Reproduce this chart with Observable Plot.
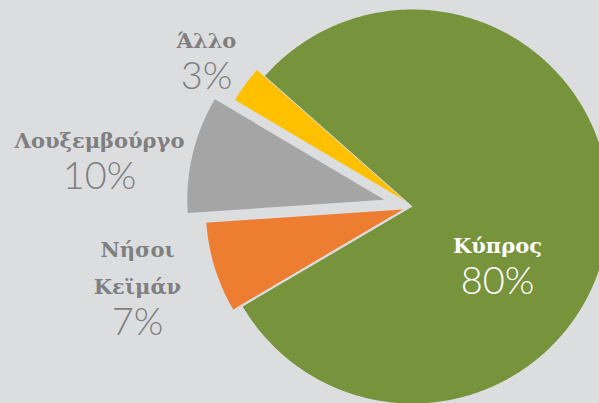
<!DOCTYPE html>
<html>
<head>
<meta charset="utf-8">
<script src="https://cdn.jsdelivr.net/npm/d3@7"></script>
<script src="https://cdn.jsdelivr.net/npm/@observablehq/plot@0.6"></script>
<style>
  html, body { margin: 0; padding: 0; background: #dcdddf; }
  #chart svg { display: block; background: #dcdddf; }
</style>
</head>
<body>
<div id="chart"></div>
<script>
// ---- data ----
const names = ["Κύπρος", "Νήσοι\nΚεϊμάν", "Λουξεμβούργο", "Άλλο"];
const shares = [80, 7.4, 9.6, 3.0];
const pctLabels = ["80%", "7%", "10%", "3%"];
const colors = ["#77933c", "#ed7d31", "#a5a5a5", "#ffc000"];

// ---- layout (pixels relative to pie centre) ----
const W = 599, H = 403;
const CX = 412, CY = 206, R = 197;
const startAngle = 311.5;            // degrees clockwise from 12 o'clock
const explode = [0, 10, 29, 10];     // px offset along bisector
const labelX = [85, -275, -313, -206];
const labelY = [-46, -87, 59, 159];  // baseline of (last line of) name, y up
const pctGap = 41;
const textColors = ["#ffffff", "#7f7f7f", "#7f7f7f", "#7f7f7f"];

// build slice polygons
const poly = [];
let a = startAngle;
shares.forEach((s, i) => {
  const a0 = a, a1 = a + s / 100 * 360;
  a = a1;
  const mid = (a0 + a1) / 2 * Math.PI / 180;
  const ox = explode[i] * Math.sin(mid), oy = explode[i] * Math.cos(mid);
  poly.push({name: names[i], x: ox, y: oy});
  const n = Math.max(4, Math.ceil((a1 - a0) / 0.5));
  for (let k = 0; k <= n; k++) {
    const t = (a0 + (a1 - a0) * k / n) * Math.PI / 180;
    poly.push({name: names[i], x: ox + R * Math.sin(t), y: oy + R * Math.cos(t)});
  }
  poly.push({name: names[i], x: ox, y: oy});
});

const labels = names.map((n, i) => ({
  name: n, pct: pctLabels[i], x: labelX[i], y: labelY[i], color: textColors[i]
}));

const chart = Plot.plot({
  width: W,
  height: H,
  margin: 0,
  style: {background: "#dcdddf"},
  x: {domain: [-CX, W - CX], axis: null},
  y: {domain: [-(H - CY), CY], axis: null},
  color: {domain: names, range: colors},
  marks: [
    Plot.line(poly, {x: "x", y: "y", z: "name", fill: "name", stroke: "none", curve: "linear"}),
    Plot.text(labels, {
      x: "x", y: "y", text: "name", fill: "color",
      fontFamily: "DejaVu Serif", fontWeight: "bold", fontSize: 21,
      textAnchor: "middle", lineAnchor: "bottom", lineHeight: 1.76
    }),
    Plot.text(labels, {
      x: "x", y: d => d.y - pctGap, text: "pct", fill: "color",
      fontFamily: "Lato", fontWeight: 300, fontSize: 38,
      textAnchor: "middle", lineAnchor: "bottom"
    })
  ]
});
document.getElementById("chart").appendChild(chart);
</script>
</body>
</html>
